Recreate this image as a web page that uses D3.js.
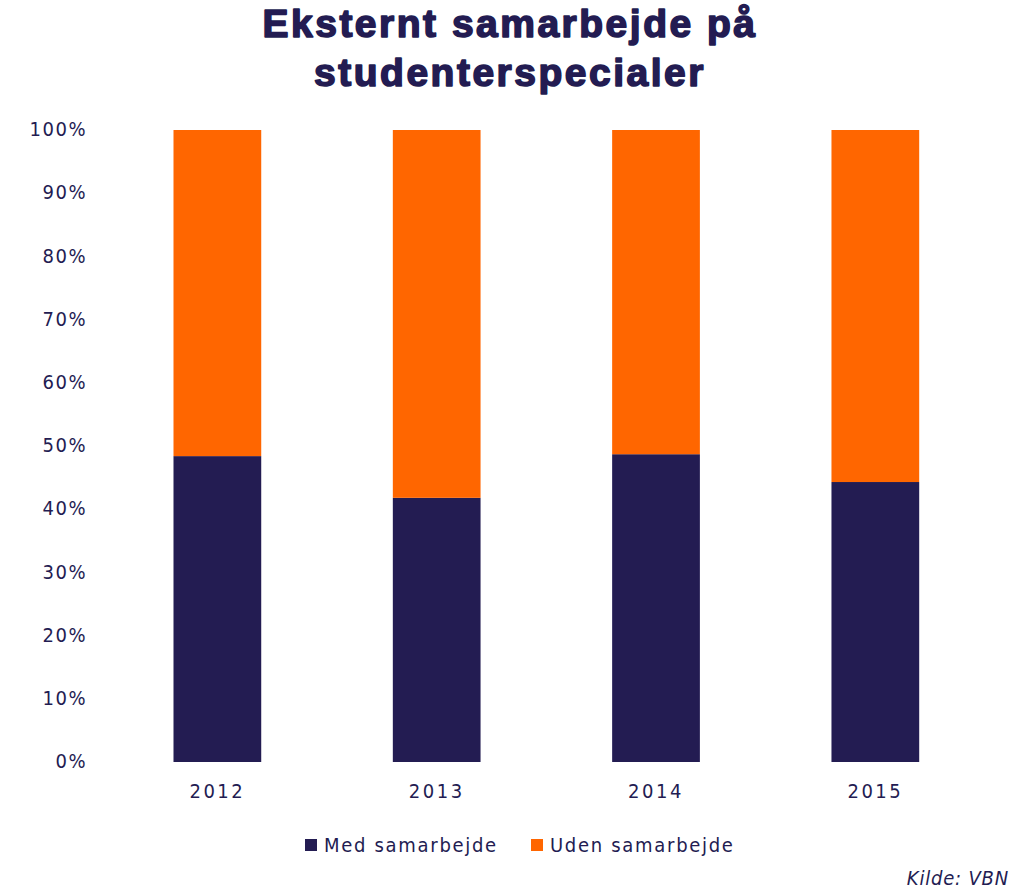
<!DOCTYPE html>
<html>
<head>
<meta charset="utf-8">
<script src="https://cdn.jsdelivr.net/npm/d3@7"></script>
<style>
  body { margin: 0; background: #fff; }
  svg text { font-family: "DejaVu Sans Condensed", "DejaVu Sans", sans-serif; fill: #231c52; }
</style>
</head>
<body>
<svg id="chart" width="1011" height="890"></svg>
<script>
// data
var years = ['2012', '2013', '2014', '2015'];
var medSamarbejde = [0.484, 0.418, 0.487, 0.443];
var udenSamarbejde = [0.516, 0.582, 0.513, 0.557];
var seriesNames = ['Med samarbejde', 'Uden samarbejde'];
var seriesColors = ['#231c52', '#ff6600'];
var yTicks = [0, 0.1, 0.2, 0.3, 0.4, 0.5, 0.6, 0.7, 0.8, 0.9, 1];
var titleLines = ['Eksternt samarbejde på', 'studenterspecialer'];

var svg = d3.select('#chart');

// title (heavy, wide)
svg.append('g')
    .selectAll('text')
    .data(titleLines)
    .join('text')
    .attr('x', 510)
    .attr('y', function(d, i){ return 37 + i * 49; })
    .attr('text-anchor', 'middle')
    .style('font-family', '"Liberation Sans", Arial, sans-serif')
    .style('font-weight', 'bold')
    .style('font-size', '39px')
    .style('letter-spacing', '2.5px')
    .style('stroke', '#231c52')
    .style('stroke-width', '1.6px')
    .style('stroke-linejoin', 'round')
    .text(function(d){ return d; });

var x = d3.scaleBand()
    .domain(years)
    .range([107.7, 985])
    .paddingInner(0.6)
    .paddingOuter(0.3);

var y = d3.scaleLinear()
    .domain([0, 1])
    .range([762, 130]);

// stacked rows
var rows = years.map(function(yr, i){
    return { year: yr, med: medSamarbejde[i], uden: udenSamarbejde[i] };
});
var layers = d3.stack().keys(['med', 'uden'])(rows);

svg.append('g')
    .selectAll('g')
    .data(layers)
    .join('g')
    .attr('fill', function(d, i){ return seriesColors[i]; })
    .selectAll('rect')
    .data(function(d){ return d; })
    .join('rect')
    .attr('x', function(d){ return x(d.data.year); })
    .attr('width', x.bandwidth())
    .attr('y', function(d){ return y(d[1]); })
    .attr('height', function(d){ return y(d[0]) - y(d[1]); });

// y axis
var yAxis = svg.append('g')
    .attr('transform', 'translate(87,0)')
    .call(d3.axisLeft(y).tickValues(yTicks).tickFormat(d3.format('.0%')).tickSize(0).tickPadding(0));
yAxis.select('.domain').remove();
yAxis.selectAll('text')
    .style('font-size', '20px')
    .style('letter-spacing', '1.5px')
    .attr('dy', '0.28em')
    .attr('fill', '#231c52');

// x axis
var xAxis = svg.append('g')
    .attr('transform', 'translate(0,762)')
    .call(d3.axisBottom(x).tickSize(0).tickPadding(22));
xAxis.select('.domain').remove();
xAxis.selectAll('text')
    .style('font-size', '20px')
    .style('letter-spacing', '2.5px')
    .attr('fill', '#231c52');

// legend
var legendX = [305, 531];
var legend = svg.append('g')
    .selectAll('g')
    .data(seriesNames)
    .join('g')
    .attr('transform', function(d, i){ return 'translate(' + legendX[i] + ',845)'; });
legend.append('rect')
    .attr('x', 0).attr('y', -6)
    .attr('width', 12).attr('height', 12)
    .attr('fill', function(d, i){ return seriesColors[i]; });
legend.append('text')
    .attr('x', 19).attr('y', 0)
    .attr('dy', '0.36em')
    .style('font-size', '20px')
    .style('letter-spacing', '1.7px')
    .text(function(d){ return d; });

// source
svg.append('text')
    .attr('x', 1009).attr('y', 885)
    .attr('text-anchor', 'end')
    .style('font-size', '20px')
    .style('font-style', 'italic')
    .style('letter-spacing', '0.8px')
    .text('Kilde: VBN');
</script>
</body>
</html>
